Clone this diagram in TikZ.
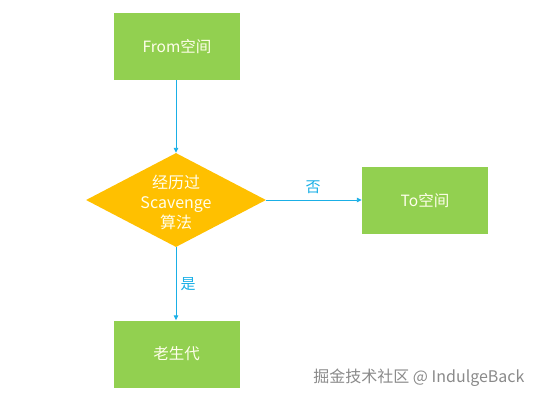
\documentclass[tikz,border=0pt]{standalone}
\usepackage{fontspec}
\setmainfont{Noto Sans CJK SC}
\usetikzlibrary{arrows.meta,shapes.geometric}
\definecolor{boxgreen}{HTML}{92D050}
\definecolor{dorange}{HTML}{FFC000}
\definecolor{lineblue}{HTML}{1AAFE6}
\definecolor{wmgray}{HTML}{8A8A8A}
\tikzset{
  gbox/.style={fill=boxgreen, draw=none, minimum width=126pt, minimum height=67pt, text=white!92!yellow, font=\fontsize{15.5}{18}\selectfont, inner sep=0pt},
  dia/.style={diamond, fill=dorange, draw=none, aspect=1.9, minimum width=180pt, minimum height=94pt, inner sep=0pt, text=white!92!yellow, font=\fontsize{16}{20}\selectfont, align=center},
  conn/.style={draw=lineblue, line width=0.9pt, -{Triangle[length=5pt,width=4.5pt]}},
  lbl/.style={text=lineblue, font=\fontsize{15}{17}\selectfont}
}
\begin{document}
\begin{tikzpicture}[x=1pt,y=-1pt]
\useasboundingbox (0,0) rectangle (540,400);
\node[gbox] (from) at (177,46.5) {From空间};
\node[dia] (d) at (176,200) {};
\node[text=white!92!yellow, font=\fontsize{16}{20}\selectfont, align=center] (dt) at (176,202) {经历过\\Scavenge\\算法};
\node[gbox] (to) at (425,200.5) {To空间};
\node[gbox] (old) at (176.5,354) {老生代};
\draw[conn] (from.south -| d.north) -- (d.north);
\draw[conn] (d.east) -- (to.west |- d.east);
\draw[conn] (d.south) -- (old.north -| d.south);
\node[lbl] (no) at (313,187) {否};
\node[lbl] (yes) at (188,284) {是};
\node[text=wmgray, font=\fontsize{16}{18}\selectfont, anchor=east] (wm) at (528,378) {掘金技术社区 @ IndulgeBack};
\end{tikzpicture}
\end{document}
